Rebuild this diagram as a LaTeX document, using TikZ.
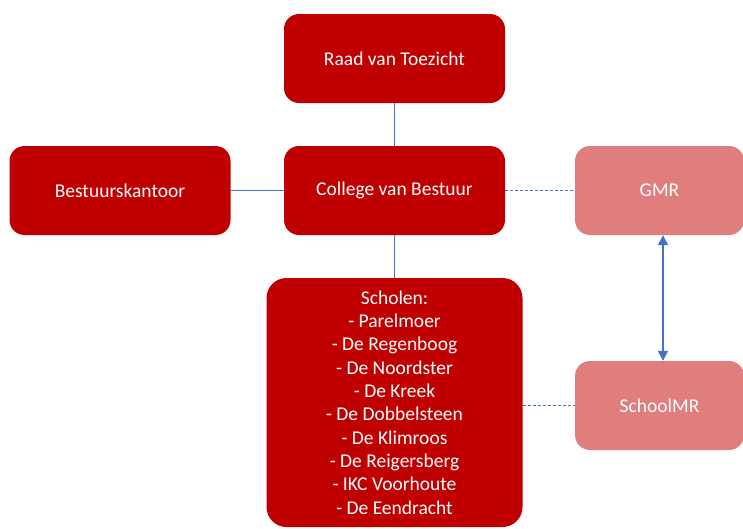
\documentclass[tikz,border=0pt]{standalone}
\usepackage{fontspec}
\setmainfont{Carlito}
\usetikzlibrary{positioning,arrows.meta}

\definecolor{boxred}{HTML}{C00000}
\definecolor{boxpink}{HTML}{E07D7D}
\definecolor{lineblue}{HTML}{4472C4}

\tikzset{
    orgbox/.style={fill=boxred, rounded corners=15pt, text=white,
        minimum width=221pt, minimum height=89pt, align=center,
        font=\fontsize{19.5}{23.3}\selectfont},
    mrbox/.style={orgbox, fill=boxpink, minimum width=169pt},
    orgline/.style={lineblue, line width=1.6pt},
    mrline/.style={orgline, dash pattern=on 3pt off 2pt},
}

\begin{document}
\begin{tikzpicture}[x=1pt, y=-1pt, >={Triangle[length=10pt, width=10pt]}]
    % white page of the same size as the picture
    \useasboundingbox[fill=white] (0,0) rectangle (743,528);

    % the boxes of the board
    \node[orgbox] (raad) at (394.5, 58.5) {Raad van Toezicht};
    \node[orgbox] (college) at (394.5, 190.5) {College van Bestuur};
    \node[orgbox] (kantoor) at (120, 190.5) {Bestuurskantoor};

    % the box with all the schools
    \node[orgbox, minimum width=256pt, minimum height=249pt,
        rounded corners=20pt] (scholen) at (394.5, 402.5)
        {Scholen:\\- Parelmoer\\- De Regenboog\\- De Noordster\\- De Kreek\\
         - De Dobbelsteen\\- De Klimroos\\- De Reigersberg\\- IKC Voorhoute\\
         - De Eendracht};

    % the two councils on the right
    \node[mrbox] (gmr) at (659.5, 190.5) {GMR};
    \node[mrbox] (schoolmr) at (659.5, 405.5) {SchoolMR};

    % solid lines of the hierarchy
    \draw[orgline] (raad) -- (college);
    \draw[orgline] (kantoor) -- (college);
    \draw[orgline] (college) -- (scholen);

    % dotted lines to the councils
    \draw[mrline] (college.east) -- (gmr.west);
    \draw[mrline] (scholen.east |- schoolmr.west) -- (schoolmr.west);

    % arrow between GMR and SchoolMR
    \draw[orgline, <->] ([xshift=3.5pt]gmr.south) -- ([xshift=3.5pt]schoolmr.north);
\end{tikzpicture}
\end{document}
